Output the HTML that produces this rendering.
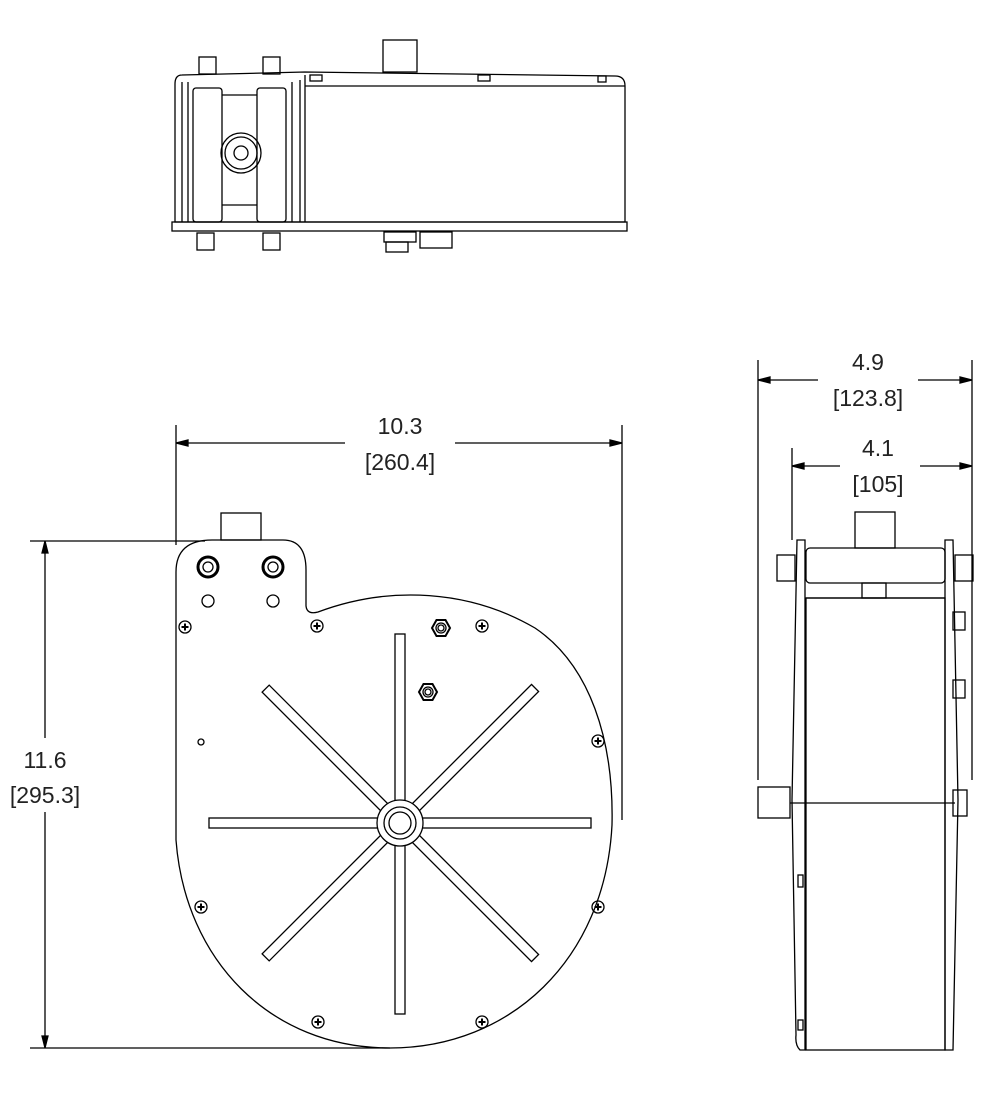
<!DOCTYPE html>
<html><head><meta charset="utf-8"><style>
html,body{margin:0;padding:0;background:#fff}
svg{display:block}
text{font-family:"Liberation Sans",sans-serif;font-size:23px;fill:#222;text-anchor:middle;font-weight:300}
</style></head><body>
<svg width="1002" height="1102" viewBox="0 0 1002 1102" xmlns="http://www.w3.org/2000/svg" fill="none" stroke="#000" stroke-width="1.3">
<defs>
<g id="scr"><circle r="6"/><path d="M-3.5 0H3.5M0 -3.5V3.5" stroke-width="2"/></g>
<g id="nut"><polygon points="-9,0 -4.5,-8 4.5,-8 9,0 4.5,8 -4.5,8" stroke-width="2"/><circle r="5"/><circle r="3"/></g>
</defs>
<!-- TOP VIEW -->
<rect x="383" y="40" width="34" height="32"/>
<path d="M182 75 Q175 75 175 84 L175 222 L625 222 L625 86 Q625 76 615 76 L305 72 Z"/>
<rect x="172" y="222" width="455" height="9"/>
<line x1="305" y1="86" x2="625" y2="86"/>
<line x1="305" y1="75" x2="305" y2="222"/>
<line x1="300" y1="80" x2="300" y2="222"/>
<line x1="182" y1="82" x2="182" y2="222"/>
<line x1="188" y1="82" x2="188" y2="222"/>
<line x1="292" y1="82" x2="292" y2="222"/>
<rect x="193" y="88" width="29" height="134" rx="3"/>
<rect x="257" y="88" width="29" height="134" rx="3"/>
<line x1="222" y1="95" x2="257" y2="95"/>
<line x1="222" y1="205" x2="257" y2="205"/>
<circle cx="241" cy="153" r="20"/><circle cx="241" cy="153" r="16"/><circle cx="241" cy="153" r="7"/>
<rect x="199" y="57" width="17" height="17"/><rect x="263" y="57" width="17" height="17"/>
<rect x="197" y="233" width="17" height="17"/><rect x="263" y="233" width="17" height="17"/>
<rect x="384" y="232" width="32" height="10"/><rect x="386" y="242" width="22" height="10"/>
<rect x="420" y="232" width="32" height="16"/>
<rect x="310" y="75" width="12" height="6"/><rect x="478" y="75" width="12" height="6"/><rect x="598" y="76" width="8" height="6"/>
<!-- FRONT VIEW -->
<rect x="221" y="513" width="40" height="27"/>
<path d="M176 572 Q176 540 212 540 L283 540 Q306 540 306 570 L306 606 Q307 615 318 612 C390 585 470 590 535 628 C590 665 614 740 612 825 C605 960 510 1048 390 1048 C270 1048 185 960 176 840 Z"/>
<circle cx="208" cy="567" r="10" stroke-width="3"/><circle cx="208" cy="567" r="5"/>
<circle cx="273" cy="567" r="10" stroke-width="3"/><circle cx="273" cy="567" r="5"/>
<circle cx="208" cy="601" r="6"/><circle cx="273" cy="601" r="6"/>
<circle cx="201" cy="742" r="3"/>
<use href="#scr" x="185" y="627"/><use href="#scr" x="317" y="626"/><use href="#scr" x="482" y="626"/>
<use href="#scr" x="598" y="741"/><use href="#scr" x="201" y="907"/><use href="#scr" x="598" y="907"/>
<use href="#scr" x="318" y="1022"/><use href="#scr" x="482" y="1022"/>
<use href="#nut" x="441" y="628"/><use href="#nut" x="428" y="692"/>
<rect x="395" y="634" width="10" height="380"/>
<rect x="209" y="818" width="382" height="10"/>
<rect x="210" y="818" width="381" height="10" transform="rotate(45 400 823)"/>
<rect x="210" y="818" width="381" height="10" transform="rotate(-45 400 823)"/>
<circle cx="400" cy="823" r="23" fill="#fff"/><circle cx="400" cy="823" r="16"/><circle cx="400" cy="823" r="11"/>
<!-- dims front -->
<line x1="176" y1="425" x2="176" y2="545"/><line x1="622" y1="425" x2="622" y2="820"/>
<line x1="176" y1="443" x2="345" y2="443"/><line x1="455" y1="443" x2="622" y2="443"/>
<path d="M176 443l12-3v6z M622 443l-12-3v6z" fill="#000"/>
<line x1="30" y1="541" x2="205" y2="541"/><line x1="30" y1="1048" x2="390" y2="1048"/>
<line x1="45" y1="541" x2="45" y2="738"/><line x1="45" y1="812" x2="45" y2="1048"/>
<path d="M45 541l-3 12h6z M45 1048l-3-12h6z" fill="#000"/>
<!-- SIDE VIEW -->
<rect x="855" y="512" width="40" height="36"/>
<rect x="806" y="548" width="139" height="35" rx="4"/>
<rect x="862" y="583" width="24" height="15"/>
<line x1="806" y1="598" x2="945" y2="598"/>
<rect x="806" y="598" width="139" height="452"/>
<path d="M797 540 L805 540 L805 1050 L800 1050 Q795 1045 796 1035 L792 800 Z"/>
<path d="M945 540 L953 540 L958 800 L953 1050 L945 1050 Z"/>
<rect x="758" y="787" width="32" height="31"/>
<line x1="790" y1="803" x2="955" y2="803"/>
<rect x="777" y="555" width="18" height="26"/><rect x="955" y="555" width="18" height="26"/>
<rect x="953" y="612" width="12" height="18"/><rect x="953" y="680" width="12" height="18"/>
<rect x="953" y="790" width="14" height="26"/>
<rect x="798" y="875" width="5" height="12"/><rect x="798" y="1020" width="5" height="10"/>
<!-- dims side -->
<line x1="758" y1="360" x2="758" y2="780"/><line x1="972" y1="360" x2="972" y2="780"/>
<line x1="758" y1="380" x2="818" y2="380"/><line x1="918" y1="380" x2="972" y2="380"/>
<path d="M758 380l12-3v6z M972 380l-12-3v6z" fill="#000"/>
<line x1="792" y1="448" x2="792" y2="540"/>
<line x1="792" y1="466" x2="840" y2="466"/><line x1="920" y1="466" x2="972" y2="466"/>
<path d="M792 466l12-3v6z M972 466l-12-3v6z" fill="#000"/>
<g stroke="none">
<text x="400" y="434">10.3</text><text x="400" y="470">[260.4]</text>
<text x="45" y="768">11.6</text><text x="45" y="803">[295.3]</text>
<text x="868" y="370">4.9</text><text x="868" y="406">[123.8]</text>
<text x="878" y="456">4.1</text><text x="878" y="492">[105]</text>
</g>
</svg>
</body></html>
